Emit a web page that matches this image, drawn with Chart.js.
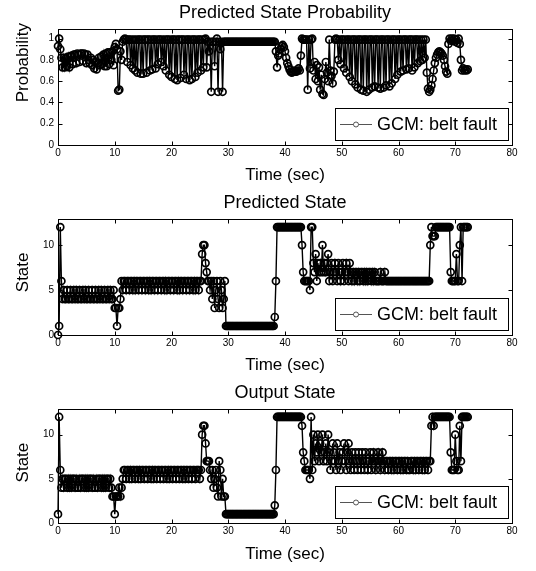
<!DOCTYPE html>
<html>
<head>
<meta charset="utf-8">
<script src="https://cdn.jsdelivr.net/npm/chart.js@4.4.0/dist/chart.umd.min.js"></script>
<style>
  html, body { margin: 0; padding: 0; background: #fff; }
  .panel { position: absolute; left: 0; width: 536px; }
</style>
</head>
<body>
<div class="panel" style="top:0;height:190px"><canvas id="probChart"></canvas></div>
<div class="panel" style="top:190px;height:190px"><canvas id="predChart"></canvas></div>
<div class="panel" style="top:380px;height:191px"><canvas id="outChart"></canvas></div>
<script>
// samples every 0.2 s, from t = 0 to t = 72.2
const timeStep = 0.2;
const xTicks = [0, 10, 20, 30, 40, 50, 60, 70, 80];
const probTicks = [0, 0.2, 0.4, 0.6, 0.8, 1];
const stateTicks = [0, 5, 10];
const seriesName = 'GCM: belt fault';

const probability = [
  0.93,1.0,0.9,0.82,0.73,0.82,0.73,0.82,0.74,0.83,
  0.73,0.83,0.84,0.76,0.85,0.85,0.77,0.86,0.85,0.78,
  0.86,0.86,0.79,0.86,0.85,0.77,0.85,0.8,0.77,0.82,
  0.75,0.8,0.72,0.78,0.71,0.77,0.82,0.75,0.83,0.76,
  0.85,0.74,0.86,0.74,0.87,0.76,0.87,0.8,0.88,0.75,
  0.92,0.95,0.9,0.51,0.52,0.88,0.8,0.97,0.99,1.0,
  0.99,0.78,0.99,0.99,0.75,0.99,0.72,0.99,0.7,0.99,
  0.68,0.99,0.99,0.67,0.99,0.67,0.99,0.99,0.68,0.99,
  0.99,0.7,0.99,0.71,0.99,0.99,0.72,0.99,0.76,0.99,
  0.99,0.78,0.99,0.74,0.99,0.7,0.99,0.99,0.66,0.99,
  0.64,0.99,0.99,0.62,0.99,0.61,0.99,0.99,0.63,0.99,
  0.99,0.66,0.99,0.62,0.99,0.99,0.61,0.99,0.62,0.99,
  0.99,0.64,0.99,0.68,0.99,0.99,0.7,0.99,0.73,0.99,
  1.0,0.73,0.97,0.88,0.97,0.5,0.97,0.97,0.74,0.97,
  1.0,0.5,0.97,0.9,0.97,0.5,0.97,0.97,0.97,0.97,
  0.97,0.97,0.97,0.97,0.97,0.97,0.97,0.97,0.97,0.97,
  0.97,0.97,0.97,0.97,0.97,0.97,0.97,0.97,0.97,0.97,
  0.97,0.97,0.97,0.97,0.97,0.97,0.97,0.97,0.97,0.97,
  0.97,0.97,0.97,0.97,0.97,0.97,0.97,0.97,0.97,0.97,
  0.97,0.97,0.88,0.73,0.84,0.86,0.9,0.93,0.94,0.92,
  0.88,0.82,0.77,0.74,0.71,0.69,0.68,0.69,0.7,0.69,
  0.69,0.7,0.72,0.7,0.84,1.0,0.99,0.99,0.99,0.99,
  0.52,0.99,0.72,0.99,1.0,0.7,0.78,0.62,0.75,0.6,
  0.73,0.52,0.66,0.48,0.47,0.62,0.78,0.68,0.6,0.99,
  0.7,0.65,0.58,0.69,0.99,1.0,0.99,0.8,0.99,0.76,
  0.99,0.99,0.72,0.99,0.68,0.99,0.99,0.64,0.99,0.6,
  0.99,0.99,0.57,0.99,0.54,0.99,0.99,0.52,0.99,0.51,
  0.99,0.99,0.5,0.99,0.52,0.99,0.99,0.54,0.99,0.55,
  0.99,0.99,0.54,0.99,0.53,0.99,0.99,0.54,0.99,0.56,
  0.99,0.99,0.55,0.99,0.58,0.99,0.99,0.62,0.99,0.66,
  0.99,0.99,0.69,0.99,0.7,0.99,0.99,0.71,0.99,0.72,
  0.99,0.99,0.7,0.99,0.73,0.99,0.99,0.77,0.99,0.79,
  0.99,0.8,0.99,0.82,0.99,0.68,0.53,0.5,0.52,0.56,
  0.62,0.7,0.77,0.82,0.85,0.87,0.88,0.87,0.86,0.84,
  0.8,0.74,0.69,0.67,0.95,1.0,0.98,1.0,0.98,1.0,
  0.97,0.99,0.96,1.0,0.95,0.8,0.7,0.72,0.7,0.71,
  0.7,0.71
];

const predictedState = [
  0,1,12,6,4,5,4,4,5,4,
  4,5,4,4,5,4,5,4,4,5,
  4,4,5,4,5,4,4,5,4,4,
  5,4,4,5,4,4,5,4,5,4,
  4,5,4,4,5,4,5,4,4,5,
  3,3,1,3,3,4,6,5,6,6,
  5,6,6,5,6,6,5,6,5,6,
  6,5,6,6,5,6,6,5,6,6,
  5,6,5,6,6,5,6,6,5,6,
  6,5,6,6,5,6,5,6,6,5,
  6,6,5,6,6,5,6,5,6,6,
  5,6,6,5,6,6,5,6,6,5,
  6,5,6,6,5,6,6,9,10,10,
  8,7,6,6,5,6,4,6,3,5,
  6,4,3,6,5,3,4,6,1,1,
  1,1,1,1,1,1,1,1,1,1,
  1,1,1,1,1,1,1,1,1,1,
  1,1,1,1,1,1,1,1,1,1,
  1,1,1,1,1,1,1,1,1,1,
  1,2,6,12,12,12,12,12,12,12,
  12,12,12,12,12,12,12,12,12,12,
  12,12,12,12,12,10,7,6,6,6,
  6,6,5,12,12,8,7,9,6,8,
  7,8,7,10,7,8,7,8,9,6,
  7,8,6,7,8,7,6,8,7,6,
  7,8,6,7,8,7,6,8,7,6,
  7,6,7,7,6,7,6,7,7,6,
  7,6,7,6,7,7,6,7,6,7,
  6,6,6,6,7,6,6,6,7,6,
  6,6,6,6,6,6,6,6,6,6,
  6,6,6,6,6,6,6,6,6,6,
  6,6,6,6,6,6,6,6,6,6,
  6,6,6,6,6,6,6,6,10,12,
  11,11,11,12,12,12,12,12,12,12,
  12,12,12,12,12,12,7,6,6,6,
  6,9,6,6,10,12,6,12,12,12,
  12,12
];

const outputState = [
  1,12,6,4,5,4,5,5,4,5,
  4,5,4,5,5,4,5,4,4,5,
  4,5,5,4,5,4,5,4,5,5,
  4,5,4,4,5,4,5,5,4,5,
  4,5,4,5,5,4,5,4,3,3,
  1,3,3,3,4,3,4,5,6,6,
  5,6,6,5,6,5,6,6,5,6,
  6,5,6,5,6,6,5,6,6,5,
  6,6,5,6,5,6,6,5,6,6,
  5,6,6,5,6,6,5,6,5,6,
  6,5,6,6,5,6,6,5,6,6,
  5,6,5,6,6,5,6,6,5,6,
  6,5,6,6,6,5,6,10,11,11,
  9,7,7,7,6,5,6,4,5,6,
  4,3,7,6,3,5,3,3,1,1,
  1,1,1,1,1,1,1,1,1,1,
  1,1,1,1,1,1,1,1,1,1,
  1,1,1,1,1,1,1,1,1,1,
  1,1,1,1,1,1,1,1,1,1,
  1,2,6,12,12,12,12,12,12,12,
  12,12,12,12,12,12,12,12,12,12,
  12,12,12,12,12,11,8,7,6,6,
  6,6,5,12,6,10,7,9,8,10,
  7,9,8,10,7,8,9,7,10,8,
  6,7,9,8,7,6,9,7,8,6,
  7,8,9,7,6,8,9,7,6,8,
  7,6,8,7,6,8,7,6,8,7,
  6,8,7,6,7,8,6,7,8,7,
  6,7,8,7,6,7,8,7,6,7,
  7,6,7,7,6,7,6,7,7,6,
  7,7,6,7,6,7,7,6,7,6,
  6,7,7,6,7,6,7,7,6,7,
  7,6,7,6,7,7,6,7,7,11,
  12,11,12,12,12,12,12,12,12,12,
  12,12,12,12,12,12,8,6,6,6,
  10,7,6,6,11,7,12,12,12,12,
  12,12
];

const FONT = "'Liberation Sans', Arial, Helvetica, sans-serif";
const TICK_FONT = "'Liberation Sans Narrow', 'Liberation Sans', Arial, sans-serif";

// MATLAB-like box: frame, inward ticks, y label, legend in the lower right
const axesBox = {
  id: 'axesBox',
  afterDatasetsDraw(chart) {
    const { ctx, chartArea: a, scales: { x, y } } = chart;
    ctx.save();
    ctx.strokeStyle = '#000';
    ctx.lineWidth = 1;
    const L = Math.round(a.left) + 0.5, R = Math.round(a.right) + 0.5;
    const T = Math.round(a.top) + 0.5, B = Math.round(a.bottom) + 0.5;
    ctx.strokeRect(L, T, R - L, B - T);
    ctx.beginPath();
    x.ticks.forEach(t => {
      const px = Math.round(x.getPixelForValue(t.value)) + 0.5;
      ctx.moveTo(px, B); ctx.lineTo(px, B - 4);
      ctx.moveTo(px, T); ctx.lineTo(px, T + 4);
    });
    y.ticks.forEach(t => {
      const py = Math.round(y.getPixelForValue(t.value)) + 0.5;
      ctx.moveTo(L, py); ctx.lineTo(L + 4, py);
      ctx.moveTo(R, py); ctx.lineTo(R - 4, py);
    });
    ctx.stroke();
    ctx.restore();
  },
  afterDraw(chart, args, opts) {
    const { ctx, chartArea: a } = chart;
    ctx.save();
    // y axis label
    ctx.fillStyle = '#000';
    ctx.font = '17px ' + FONT;
    ctx.textAlign = 'center';
    ctx.textBaseline = 'middle';
    ctx.translate(opts.yLabelX, a.top + (a.bottom - a.top) * opts.yLabelPos);
    ctx.rotate(-Math.PI / 2);
    ctx.fillText(opts.yLabel, 0, 0);
    ctx.restore();

    // legend
    const w = 173, h = 32;
    const bx = Math.round(a.right) - 4 - w, by = Math.round(a.bottom) - 5 - h;
    ctx.save();
    ctx.fillStyle = '#fff';
    ctx.fillRect(bx, by, w, h);
    ctx.strokeStyle = '#000';
    ctx.lineWidth = 1;
    ctx.strokeRect(bx + 0.5, by + 0.5, w, h);
    const my = by + h / 2 + 0.5;
    ctx.strokeStyle = '#555';
    ctx.beginPath();
    ctx.moveTo(bx + 5, my); ctx.lineTo(bx + 37, my);
    ctx.stroke();
    ctx.beginPath();
    ctx.arc(bx + 21, my, 2.5, 0, Math.PI * 2);
    ctx.fillStyle = '#fff';
    ctx.fill();
    ctx.stroke();
    ctx.fillStyle = '#000';
    ctx.font = '18px ' + FONT;
    ctx.textAlign = 'left';
    ctx.textBaseline = 'middle';
    ctx.fillText(seriesName, bx + 42, my + 1);
    ctx.restore();
  }
};

function drawPanel(id, title, yLabel, values, yMax, yTicks, layout) {
  const points = values.map((v, i) => ({ x: i * timeStep, y: v }));
  return new Chart(document.getElementById(id), {
    type: 'line',
    data: {
      datasets: [{
        label: seriesName,
        data: points,
        borderColor: '#000',
        borderWidth: 1.4,
        pointRadius: 3.5,
        pointBorderWidth: 1.7,
        pointBorderColor: '#000',
        pointBackgroundColor: 'rgba(0,0,0,0)',
        tension: 0,
        clip: false
      }]
    },
    options: {
      responsive: true,
      maintainAspectRatio: false,
      animation: false,
      events: [],
      layout: { padding: { left: 0, right: 24, top: 0, bottom: 0 } },
      plugins: {
        legend: { display: false },
        tooltip: { enabled: false },
        title: {
          display: true,
          text: title,
          fullSize: false,
          color: '#000',
          font: { family: FONT, size: 18, weight: 'normal' },
          padding: { top: 2.5, bottom: 4.9 }
        },
        axesBox: { yLabel: yLabel, yLabelX: 23, yLabelPos: layout.yLabelPos }
      },
      scales: {
        x: {
          type: 'linear',
          min: 0,
          max: 80,
          afterBuildTicks: s => { s.ticks = xTicks.map(v => ({ value: v })); },
          afterFit: s => { s.height = layout.xAxisHeight; },
          grid: { display: false, drawTicks: false },
          border: { display: false },
          ticks: { color: '#000', font: { family: TICK_FONT, size: 10 }, padding: 2, maxRotation: 0, autoSkip: false },
          title: {
            display: true,
            text: 'Time (sec)',
            color: '#000',
            font: { family: FONT, size: 17 },
            padding: { top: 0, bottom: layout.xTitlePad }
          }
        },
        y: {
          min: 0,
          max: yMax,
          afterBuildTicks: s => { s.ticks = yTicks.map(v => ({ value: v })); },
          afterFit: s => { s.width = 58; },
          grid: { display: false, drawTicks: false },
          border: { display: false },
          ticks: {
            color: '#000',
            font: { family: TICK_FONT, size: 10 },
            padding: 4,
            autoSkip: false,
            callback: v => String(v)
          }
        }
      }
    },
    plugins: [axesBox]
  });
}

drawPanel('probChart', 'Predicted State Probability', 'Probability', probability, 1.09, probTicks,
  { xAxisHeight: 45, xTitlePad: 4.8, yLabelPos: 0.29 });
drawPanel('predChart', 'Predicted State', 'State', predictedState, 12.9, stateTicks,
  { xAxisHeight: 45, xTitlePad: 4.8, yLabelPos: 0.46 });
drawPanel('outChart', 'Output State', 'State', outputState, 12.9, stateTicks,
  { xAxisHeight: 48, xTitlePad: 6.8, yLabelPos: 0.47 });
</script>
</body>
</html>
